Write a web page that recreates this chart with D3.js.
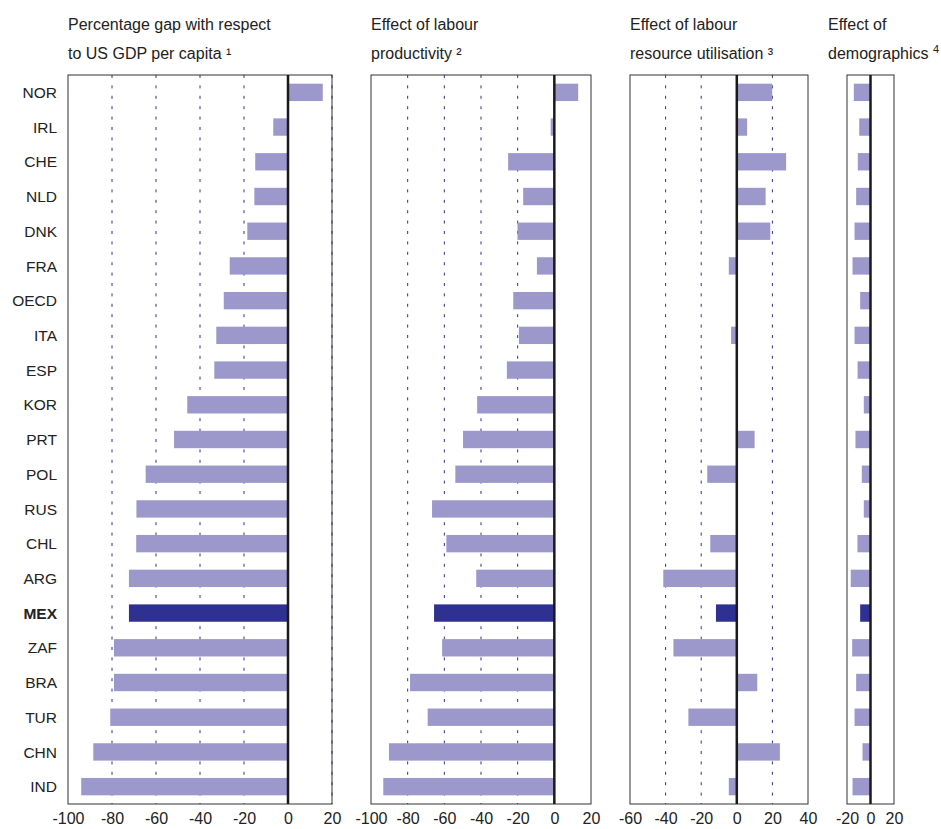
<!DOCTYPE html>
<meta charset="utf-8">
<script src="https://d3js.org/d3.v7.min.js"></script>
<style>
  body { margin: 0; background: #fff; }
  text { font-family: "Liberation Sans", Arial, sans-serif; fill: #222; }
</style>
<div id="my_dataviz"></div>
<script>

  // countries, top to bottom
  const countries = ["NOR", "IRL", "CHE", "NLD", "DNK", "FRA", "OECD", "ITA", "ESP", "KOR", "PRT",
    "POL", "RUS", "CHL", "ARG", "MEX", "ZAF", "BRA", "TUR", "CHN", "IND"];

  // percentage gap with respect to US GDP per capita
  const gdpGap = [15.8, -6.7, -14.9, -15.3, -18.5, -26.5, -29.2, -32.6, -33.5, -45.8, -51.8,
    -64.7, -68.9, -69.0, -72.3, -72.3, -79.1, -79.1, -80.8, -88.5, -94.0];

  // effect of labour productivity
  const productivity = [13.0, -2.0, -25.2, -17.0, -20.1, -9.5, -22.4, -19.3, -25.9, -42.1, -49.8,
    -54.0, -66.7, -58.9, -42.6, -65.6, -61.2, -78.7, -69.1, -90.2, -93.3];

  // effect of labour resource utilisation
  const utilisation = [19.9, 5.8, 27.7, 16.2, 18.8, -4.5, 0, -3.2, -0.5, 0, 10.0,
    -16.6, 0, -14.9, -41.3, -11.7, -35.6, 11.5, -27.2, 24.2, -4.5];

  // effect of demographics
  const demographics = [-14.2, -9.6, -10.8, -12.2, -13.6, -15.3, -8.8, -13.6, -11.0, -5.7, -12.8,
    -7.4, -5.7, -11.1, -16.8, -8.8, -15.6, -12.2, -13.6, -6.8, -15.3];

  const highlight = "MEX";

  // panel titles and ticks
  const titles = [
    ["Percentage gap with respect", "to US GDP per capita ¹"],
    ["Effect of labour", "productivity ²"],
    ["Effect of labour", "resource utilisation ³"],
    ["Effect of", "demographics "]
  ];
  const tickLabels = [
    [-100, -80, -60, -40, -20, 0, 20],
    [-100, -80, -60, -40, -20, 0, 20],
    [-60, -40, -20, 0, 20, 40],
    [-20, 0, 20]
  ];
  const gridTicks = [
    [-80, -60, -40, -20, 20],
    [-80, -60, -40, -20],
    [-40, -20, 20],
    []
  ];
  const domains = [[-100, 20], [-100, 20], [-60, 40], [-20, 20]];
  const series = [gdpGap, productivity, utilisation, demographics];

  // layout
  const width = 941, height = 829;
  const plotTop = 75, plotBottom = 804;
  const panelX = [[68, 332], [371, 591], [630, 808], [847, 894]];
  const titleX = [68, 371, 630, 828];

  const svg = d3.select("#my_dataviz")
    .append("svg")
    .attr("width", width)
    .attr("height", height);

  const y = d3.scaleBand()
    .domain(countries)
    .range([plotTop, plotBottom])
    .paddingInner(0.5)
    .paddingOuter(0.25);

  // country labels
  svg.append("g")
    .selectAll("text")
    .data(countries)
    .join("text")
    .attr("x", 57)
    .attr("y", d => y(d) + y.bandwidth() / 2)
    .attr("dy", "0.36em")
    .attr("text-anchor", "end")
    .style("font-size", "15.5px")
    .style("font-weight", d => d === highlight ? "bold" : "normal")
    .text(d => d);

  series.forEach(function (values, i) {
    const x = d3.scaleLinear()
      .domain(domains[i])
      .range(panelX[i]);

    const g = svg.append("g");

    // titles
    g.append("text")
      .attr("x", titleX[i])
      .attr("y", 30)
      .style("font-size", "16px")
      .text(titles[i][0]);
    const t2 = g.append("text")
      .attr("x", titleX[i])
      .attr("y", 59)
      .style("font-size", "16px")
      .text(titles[i][1]);
    if (i === 3) {
      t2.append("tspan")
        .attr("dy", -6)
        .style("font-size", "11px")
        .text("4");
    }

    // grid lines
    g.append("g")
      .selectAll("line")
      .data(gridTicks[i])
      .join("line")
      .attr("x1", d => x(d))
      .attr("x2", d => x(d))
      .attr("y1", plotTop)
      .attr("y2", plotBottom)
      .attr("stroke", "#2e3192")
      .attr("stroke-width", 1)
      .attr("stroke-dasharray", "3,7.4");

    // bars
    g.append("g")
      .selectAll("rect")
      .data(countries)
      .join("rect")
      .attr("x", (d, j) => x(Math.min(0, values[j])))
      .attr("width", (d, j) => Math.abs(x(values[j]) - x(0)))
      .attr("y", d => y(d))
      .attr("height", y.bandwidth())
      .attr("fill", d => d === highlight ? "#2e3192" : "#9d98cb");

    // frame
    g.append("rect")
      .attr("x", x.range()[0])
      .attr("y", plotTop)
      .attr("width", x.range()[1] - x.range()[0])
      .attr("height", plotBottom - plotTop)
      .attr("fill", "none")
      .attr("stroke", "#333")
      .attr("stroke-width", 1);

    // zero line
    g.append("line")
      .attr("x1", x(0))
      .attr("x2", x(0))
      .attr("y1", plotTop)
      .attr("y2", plotBottom)
      .attr("stroke", "#1a1a1a")
      .attr("stroke-width", 2.5);

    // x axis labels (plain hyphen for minus, as in the original)
    const axis = g.append("g")
      .attr("transform", `translate(0, ${plotBottom})`)
      .call(d3.axisBottom(x).tickValues(tickLabels[i]).tickSize(0).tickPadding(9).tickFormat(d => String(d)));
    axis.select(".domain").remove();
    axis.selectAll("text")
      .style("font-size", "16px")
      .style("font-family", "\"Liberation Sans\", Arial, sans-serif")
      .attr("fill", "#222");
  });

</script>
